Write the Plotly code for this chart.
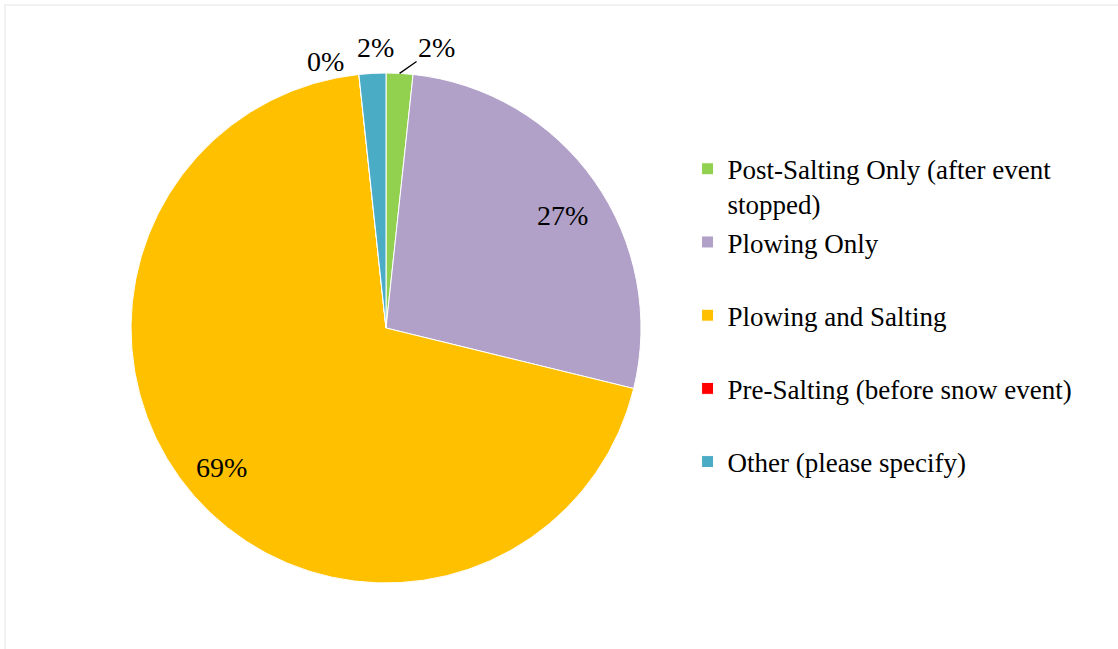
import math
import plotly.graph_objects as go

categories = [
    "Post-Salting Only (after event<br>stopped)",
    "Plowing Only<br> ",
    "Plowing and Salting<br> ",
    "Pre-Salting (before snow event)<br> ",
    "Other (please specify)<br> ",
]
counts = [1, 16, 41, 0, 1]
colors = ["#92D050", "#B1A0C7", "#FFC000", "#FF0000", "#4BACC6"]

W, H = 1118, 649
cx, cy, r = 386, 328, 255
FONT = "Liberation Serif"

fig = go.Figure(go.Pie(
    labels=categories,
    values=counts,
    sort=False,
    direction="clockwise",
    rotation=0,
    marker=dict(colors=colors, line=dict(color="white", width=1)),
    textinfo="none",
    domain=dict(x=[(cx - r) / W, (cx + r) / W], y=[(H - cy - r) / H, (H - cy + r) / H]),
    showlegend=True,
    hoverinfo="label+percent",
))

# data labels placed from the slice angles (Excel-like best-fit layout)
total = sum(counts)
label_style = [
    dict(rf=1.0, arrow=True, ax=37, ay=-26),          # Post-Salting (leader line)
    dict(rf=0.83, arrow=False, xs=3, ys=9),           # Plowing Only
    dict(rf=0.855, arrow=False, xs=0, ys=-4),         # Plowing and Salting
    dict(rf=1.1, arrow=False, xs=-31, ys=12),         # Pre-Salting (down 12px)
    dict(rf=1.1, arrow=False, xs=4, ys=0),            # Other
]
annotations = []
cum = 0.0
for v, st in zip(counts, label_style):
    frac = v / total
    mid = cum + frac / 2
    cum += frac
    ang = 2 * math.pi * mid
    px = cx + st["rf"] * r * math.sin(ang)
    py = cy - st["rf"] * r * math.cos(ang)
    txt = f"{round(frac * 100):.0f}%"
    a = dict(x=px / W, y=1 - py / H, xref="paper", yref="paper", text=txt,
             xanchor="center", yanchor="middle",
             font=dict(family=FONT, size=28, color="black"))
    if st["arrow"]:
        a.update(showarrow=True, arrowhead=0, arrowwidth=1.3, arrowcolor="black",
                 ax=st["ax"], ay=st["ay"], standoff=0)
    else:
        a.update(showarrow=False, xshift=st["xs"], yshift=-st["ys"])
    annotations.append(a)

fig.update_layout(
    width=W, height=H,
    margin=dict(l=0, r=0, t=0, b=0),
    paper_bgcolor="white",
    font=dict(family=FONT, size=27, color="black"),
    legend=dict(
        x=0.615, y=0.777, xanchor="left", yanchor="top",
        valign="top",
        font=dict(family=FONT, size=27, color="black"),
    ),
    annotations=annotations,
    shapes=[dict(type="rect", xref="paper", yref="paper", x0=5 / W, y0=-0.02, x1=1.02, y1=1 - 5 / H,
                 line=dict(color="#EDEDED", width=1.5), fillcolor="rgba(0,0,0,0)")],
)

fig.write_html("out.html", config={"displayModeBar": False},
               post_script="document.body.style.margin='0';")
